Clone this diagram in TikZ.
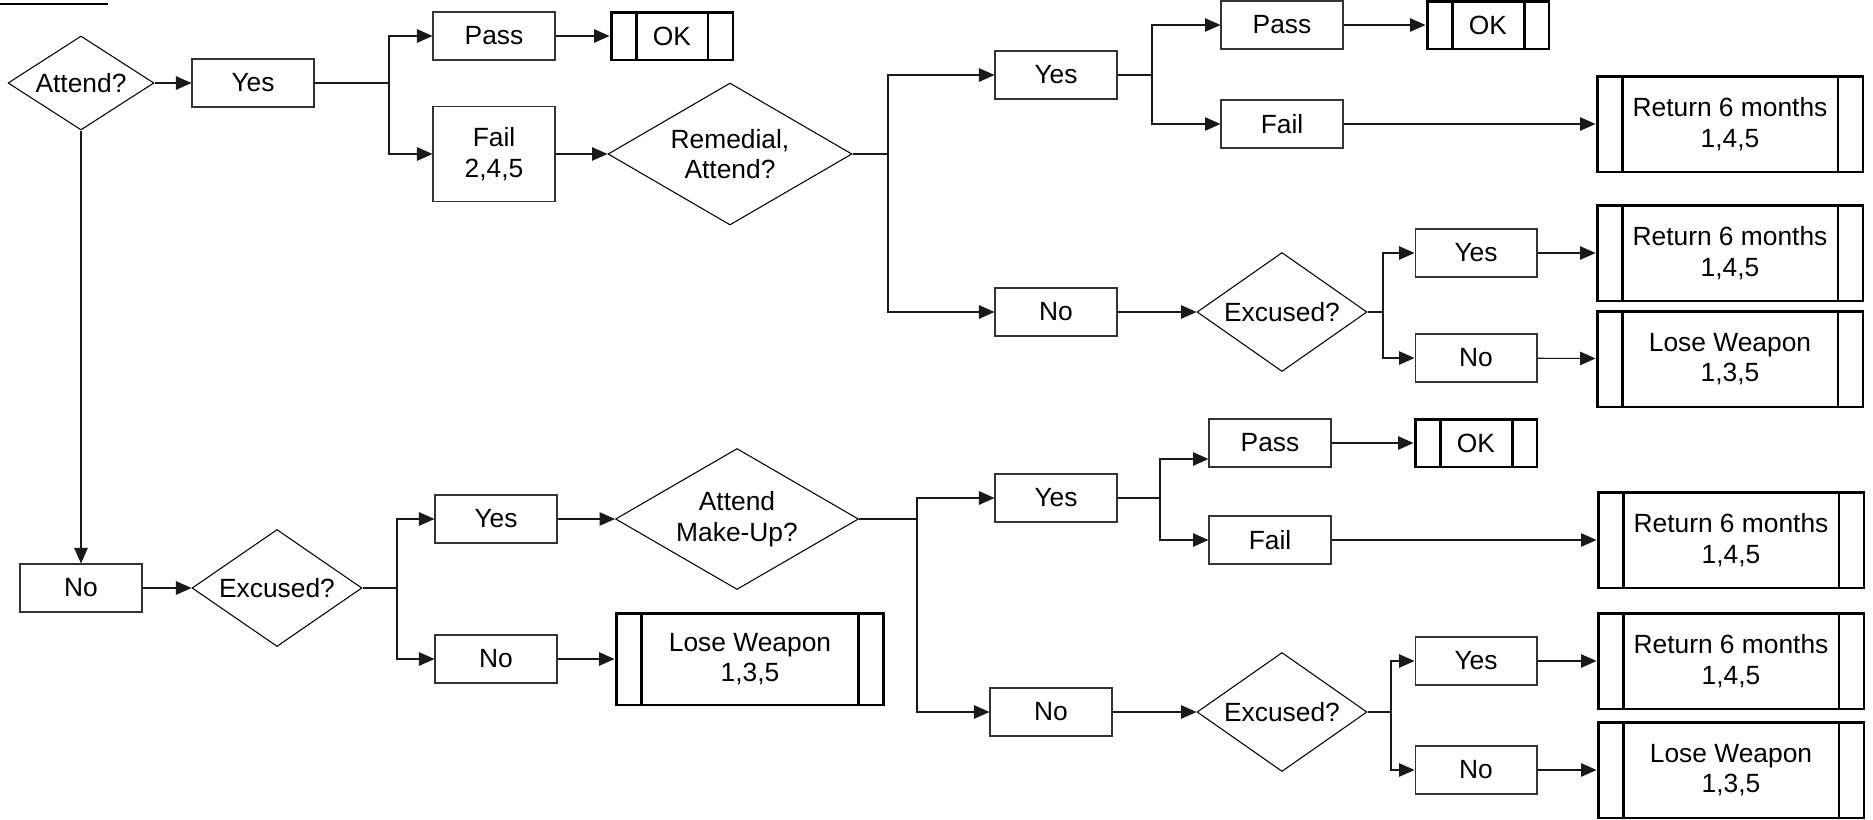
\documentclass[tikz,border=0pt]{standalone}
\usepackage{fontspec}
\setmainfont{Liberation Sans}
\usepackage{tikz}
\usetikzlibrary{arrows.meta,shapes,positioning,calc}

\begin{document}
\begin{tikzpicture}[x=0.02cm,y=-0.02cm,
    every node/.style={font=\fontsize{15}{17.5}\selectfont},
    procbox/.style={rectangle,draw=black!80,line width=0.6pt,minimum width=2.44cm,minimum height=0.96cm,inner sep=1pt,align=center},
    decision/.style={diamond,draw,line width=0.6pt,inner sep=0pt,align=center},
    predef/.style={rectangle,draw,line width=1.7pt,minimum width=5.32cm,minimum height=1.92cm,inner sep=1pt,align=center,
        path picture={
            \draw[line width=1.7pt] ([xshift=0.5cm]path picture bounding box.north west) -- ([xshift=0.5cm]path picture bounding box.south west);
            \draw[line width=1.7pt] ([xshift=-0.5cm]path picture bounding box.north east) -- ([xshift=-0.5cm]path picture bounding box.south east);
        }},
    okbox/.style={predef,minimum width=2.44cm,minimum height=0.96cm},
    flow/.style={-{Triangle[length=0.31cm,width=0.27cm]},line width=0.6pt,black!90},
    link/.style={line width=0.6pt,black!90},
]
\useasboundingbox (0,0) rectangle (1873,819);
% clipped title underline
\draw[line width=1.6pt] (0,4) -- (108,4);

% first attempt
\node[decision,aspect=1.55,minimum width=2.92cm,minimum height=1.88cm] (attend) at (81,83) {Attend?};
\node[procbox] (yes1) at (253,83) {Yes};
\coordinate (j1) at (389,83);
\node[procbox] (pass1) at (494,36) {Pass};
\node[okbox] (ok1) at (672,36) {OK};
\node[procbox,minimum height=1.9cm] (fail1) at (494,154) {Fail\\2,4,5};
\node[decision,aspect=1.72,minimum width=4.88cm,minimum height=2.84cm] (remed) at (730,154) {Remedial,\\Attend?};
\coordinate (j2) at (888,154);

\node[procbox] (yes2) at (1056,75) {Yes};
\coordinate (j3) at (1152,75);
\node[procbox] (pass2) at (1282,25) {Pass};
\node[okbox] (ok2) at (1488,25) {OK};
\node[procbox] (fail2) at (1282,124) {Fail};
\node[predef] (ret1) at (1730,124) {Return 6 months\\1,4,5};

\node[procbox] (no2) at (1056,312) {No};
\node[decision,aspect=1.43,minimum width=3.4cm,minimum height=2.38cm] (exc2) at (1282,312) {Excused?};
\coordinate (j4) at (1383,312);
\node[procbox] (yes3) at (1476,253) {Yes};
\node[procbox] (no3) at (1476,358) {No};
\node[predef] (ret2) at (1730,253) {Return 6 months\\1,4,5};
\node[predef] (lose1) at (1730,359) {Lose Weapon\\1,3,5};

% did not attend
\node[procbox] (no0) at (81,588) {No};
\node[decision,aspect=1.43,minimum width=3.4cm,minimum height=2.34cm] (exc1) at (277,588) {Excused?};
\coordinate (j5) at (397,588);
\node[procbox] (yes4) at (496,519) {Yes};
\node[procbox] (no4) at (496,659) {No};
\node[decision,aspect=1.72,minimum width=4.86cm,minimum height=2.82cm] (makeup) at (737,519) {Attend\\Make-Up?};
\node[predef,minimum width=5.36cm,minimum height=1.84cm] (lose2) at (750,659) {Lose Weapon\\1,3,5};
\coordinate (j6) at (917,519);

\node[procbox] (yes6) at (1056,498) {Yes};
\coordinate (j7) at (1160,498);
\node[procbox] (pass3) at (1270,443) {Pass};
\node[okbox] (ok3) at (1476,443) {OK};
\node[procbox] (fail3) at (1270,540) {Fail};
\node[predef] (ret3) at (1731,540) {Return 6 months\\1,4,5};

\node[procbox] (no6) at (1051,712) {No};
\node[decision,aspect=1.43,minimum width=3.4cm,minimum height=2.38cm] (exc3) at (1282,712) {Excused?};
\coordinate (j8) at (1391,712);
\node[procbox] (yes5) at (1476,661) {Yes};
\node[procbox] (no5) at (1476,770) {No};
\node[predef] (ret4) at (1731,661) {Return 6 months\\1,4,5};
\node[predef] (lose3) at (1731,770) {Lose Weapon\\1,3,5};

% connectors, top half
\draw[flow] (attend) -- (yes1);
\draw[link] (yes1) -- (j1);
\draw[flow] (j1) |- (pass1);
\draw[flow] (j1) |- (fail1);
\draw[flow] (pass1) -- (ok1);
\draw[flow] (fail1) -- (remed);
\draw[link] (remed.east) -- (j2);
\draw[flow] (j2) |- (yes2);
\draw[flow] (j2) |- (no2);
\draw[link] (yes2) -- (j3);
\draw[flow] (j3) |- (pass2);
\draw[flow] (j3) |- (fail2);
\draw[flow] (pass2) -- (ok2);
\draw[flow] (fail2) -- (ret1);
\draw[flow] (no2) -- (exc2);
\draw[link] (exc2.east) -- (j4);
\draw[flow] (j4) |- (yes3);
\draw[flow] (j4) |- (no3);
\draw[flow] (yes3) -- (ret2);
\draw[flow] (no3) -- (lose1);

% connectors, bottom half
\draw[flow] (attend.south) -- (no0.north);
\draw[flow] (no0) -- (exc1);
\draw[link] (exc1.east) -- (j5);
\draw[flow] (j5) |- (yes4);
\draw[flow] (j5) |- (no4);
\draw[flow] (yes4) -- (makeup);
\draw[flow] (no4) -- (lose2.west |- no4);
\draw[link] (makeup.east) -- (j6);
\draw[flow] (j6) |- (yes6);
\draw[flow] (j6) |- (no6);
\draw[link] (yes6) -- (j7);
\draw[flow] (j7) |- ([yshift=-0.32cm]pass3.west);
\draw[flow] (j7) |- (fail3);
\draw[flow] (pass3) -- (ok3);
\draw[flow] (fail3) -- (ret3);
\draw[flow] (no6) -- (exc3);
\draw[link] (exc3.east) -- (j8);
\draw[flow] (j8) |- (yes5);
\draw[flow] (j8) |- (no5);
\draw[flow] (yes5) -- (ret4);
\draw[flow] (no5) -- (lose3);
\end{tikzpicture}
\end{document}
